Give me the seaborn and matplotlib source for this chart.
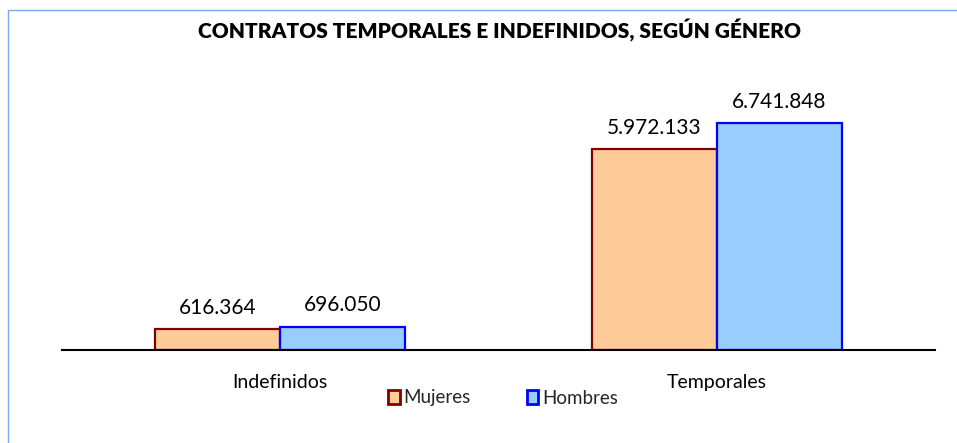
import pandas as pd
import seaborn as sns
import matplotlib.pyplot as plt
from matplotlib.patches import Rectangle

# Data
tipos = ['Indefinidos', 'Temporales']
generos = ['Mujeres', 'Hombres']
mujeres = [616364, 5972133]
hombres = [696050, 6741848]

df = pd.DataFrame({
    'tipo': tipos * 2,
    'genero': ['Mujeres'] * 2 + ['Hombres'] * 2,
    'valor': mujeres + hombres,
})

sns.set_theme(style='white')
plt.rcParams['font.family'] = ['Lato', 'DejaVu Sans']

fig = plt.figure(figsize=(9.57, 4.43), dpi=100)
ax = fig.add_axes([62 / 957, 93 / 443, 873 / 957, 290 / 443])

fills = {'Mujeres': '#FFCC99', 'Hombres': '#99CCFF'}
edges = {'Mujeres': '#800000', 'Hombres': '#0000FF'}

sns.barplot(data=df, x='tipo', y='valor', hue='genero', hue_order=generos,
            palette=fills, width=0.573, dodge=True, saturation=1, ax=ax, legend=False)

for cont, g in zip(ax.containers, generos):
    for bar in cont:
        bar.set_edgecolor(edges[g])
        bar.set_linewidth(1.6)
    ax.bar_label(cont, labels=[f'{v:,.0f}'.replace(',', '.') for v in cont.datavalues],
                 padding=8, fontsize=15, color='black')

ax.set_xlim(-0.5, 1.5)
ax.set_ylim(0, 8.61e6)
ax.set_xlabel('')
ax.set_ylabel('')
ax.set_yticks([])
ax.tick_params(axis='x', length=0, labelsize=14, pad=17, colors='black')
for s in ['top', 'left', 'right']:
    ax.spines[s].set_visible(False)
ax.spines['bottom'].set_color('black')
ax.spines['bottom'].set_linewidth(1.5)

fig.text(500 / 957, 1 - 31 / 443, 'CONTRATOS TEMPORALES E INDEFINIDOS, SEGÚN GÉNERO',
         ha='center', va='center', fontsize=15, fontweight='heavy', color='black')

handles = [Rectangle((0, 0), 1, 1, facecolor=fills[g], edgecolor=edges[g], linewidth=2)
           for g in generos]
fig.legend(handles, generos, loc='center', bbox_to_anchor=(503 / 957, 1 - 398 / 443),
           ncol=2, frameon=False, fontsize=13.5, handlelength=0.6, handleheight=0.8,
           handletextpad=0.2, columnspacing=3.0)

# light blue frame around the chart area
fig.patches.append(Rectangle((8 / 957, -0.05), 1.0, 1 - 10 / 443 + 0.05,
                             transform=fig.transFigure, fill=False,
                             edgecolor='#7BA7F0', linewidth=1))

fig.savefig('out.png', dpi=100)
